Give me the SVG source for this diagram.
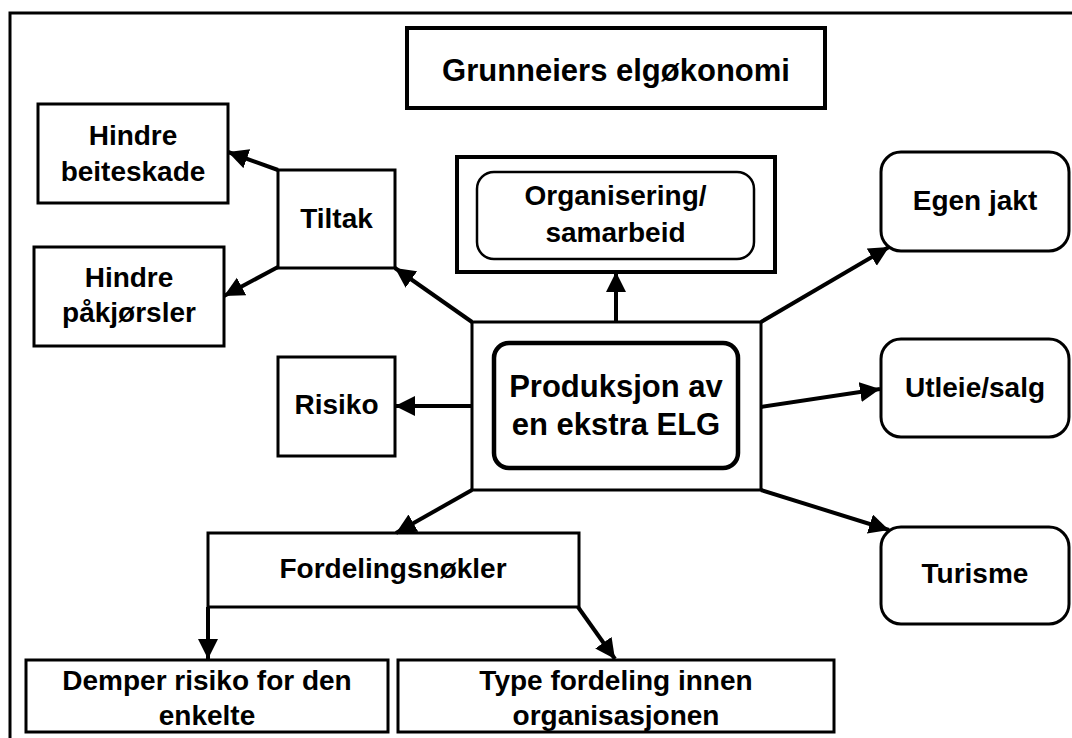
<svg xmlns="http://www.w3.org/2000/svg" width="1072" height="738" viewBox="0 0 1072 738">
<defs>
<style>
.box{fill:#fff;stroke:#000;stroke-width:3}
.thick{fill:#fff;stroke:#000;stroke-width:4}
.t{font-family:"Liberation Sans",Arial,sans-serif;font-weight:bold;font-size:28px;fill:#000;text-anchor:middle}
.big{font-size:31px}
.c{fill:none;stroke:#000;stroke-width:4}
</style>
<marker id="ah" markerUnits="userSpaceOnUse" markerWidth="22" markerHeight="22" refX="20" refY="10" orient="auto">
<path d="M0,0 L20,10 L0,20 z" fill="#000"/>
</marker>
</defs>
<rect width="1072" height="738" fill="#fff"/>
<path d="M10,738 V13 H1072" fill="none" stroke="#000" stroke-width="3"/>

<g id="title"><rect class="thick" x="407" y="28" width="418" height="80"/><text class="t big" x="616" y="81">Grunneiers elgøkonomi</text></g>
<g id="hindre-beiteskade"><rect class="box" x="38" y="104" width="190" height="99"/><text class="t" x="133" y="145">Hindre</text><text class="t" x="133" y="181">beiteskade</text></g>
<g id="tiltak"><rect class="box" x="278" y="170" width="117" height="98"/><text class="t" x="336.5" y="228">Tiltak</text></g>
<g id="hindre-pakjorsler"><rect class="box" x="34" y="247" width="190" height="99"/><text class="t" x="129" y="287">Hindre</text><text class="t" x="129" y="322">påkjørsler</text></g>
<g id="organisering"><rect class="thick" x="457" y="157" width="318" height="115"/><rect class="box" style="stroke-width:2.5" x="477" y="172" width="277" height="87" rx="17"/><text class="t" x="615.5" y="205">Organisering/</text><text class="t" x="615.5" y="242">samarbeid</text></g>
<g id="egen-jakt"><rect class="box" x="881" y="152" width="188" height="99" rx="20"/><text class="t" x="975" y="210">Egen jakt</text></g>
<g id="produksjon"><rect class="box" x="472" y="322" width="289" height="168"/><rect class="box" style="stroke-width:4.5" x="494" y="343" width="244" height="125" rx="15"/><text class="t big" x="616" y="397">Produksjon av</text><text class="t big" x="616" y="435">en ekstra ELG</text></g>
<g id="risiko"><rect class="box" x="278" y="357" width="117" height="99"/><text class="t" x="336.5" y="414">Risiko</text></g>
<g id="utleie"><rect class="box" x="881" y="339" width="188" height="98" rx="20"/><text class="t" x="975" y="397">Utleie/salg</text></g>
<g id="turisme"><rect class="box" x="881" y="527" width="188" height="97" rx="20"/><text class="t" x="975" y="583">Turisme</text></g>
<g id="fordelingsnokler"><rect class="box" x="208" y="533" width="371" height="74"/><text class="t" x="393" y="578">Fordelingsnøkler</text></g>
<g id="demper"><rect class="box" x="26" y="660" width="362" height="72"/><text class="t" x="207" y="690">Demper risiko for den</text><text class="t" x="207" y="725">enkelte</text></g>
<g id="type"><rect class="box" x="398" y="660" width="436" height="72"/><text class="t" x="616" y="690">Type fordeling innen</text><text class="t" x="616" y="725">organisasjonen</text></g>

<g id="connectors">
<line class="c" x1="472" y1="322" x2="395" y2="268" marker-end="url(#ah)"/>
<line class="c" x1="278" y1="170" x2="228" y2="152" marker-end="url(#ah)"/>
<line class="c" x1="278" y1="267" x2="224" y2="296" marker-end="url(#ah)"/>
<line class="c" x1="616" y1="322" x2="616" y2="272" marker-end="url(#ah)"/>
<line class="c" x1="761" y1="322" x2="889" y2="247" marker-end="url(#ah)"/>
<line class="c" x1="761" y1="407" x2="880" y2="389" marker-end="url(#ah)"/>
<line class="c" x1="761" y1="490" x2="889" y2="530" marker-end="url(#ah)"/>
<line class="c" x1="472" y1="490" x2="396" y2="533" marker-end="url(#ah)"/>
<line class="c" x1="472" y1="406" x2="395" y2="406" marker-end="url(#ah)"/>
<line class="c" x1="208" y1="607" x2="208" y2="659" marker-end="url(#ah)"/>
<line class="c" x1="578" y1="607" x2="615" y2="659" marker-end="url(#ah)"/>
</g>
</svg>
